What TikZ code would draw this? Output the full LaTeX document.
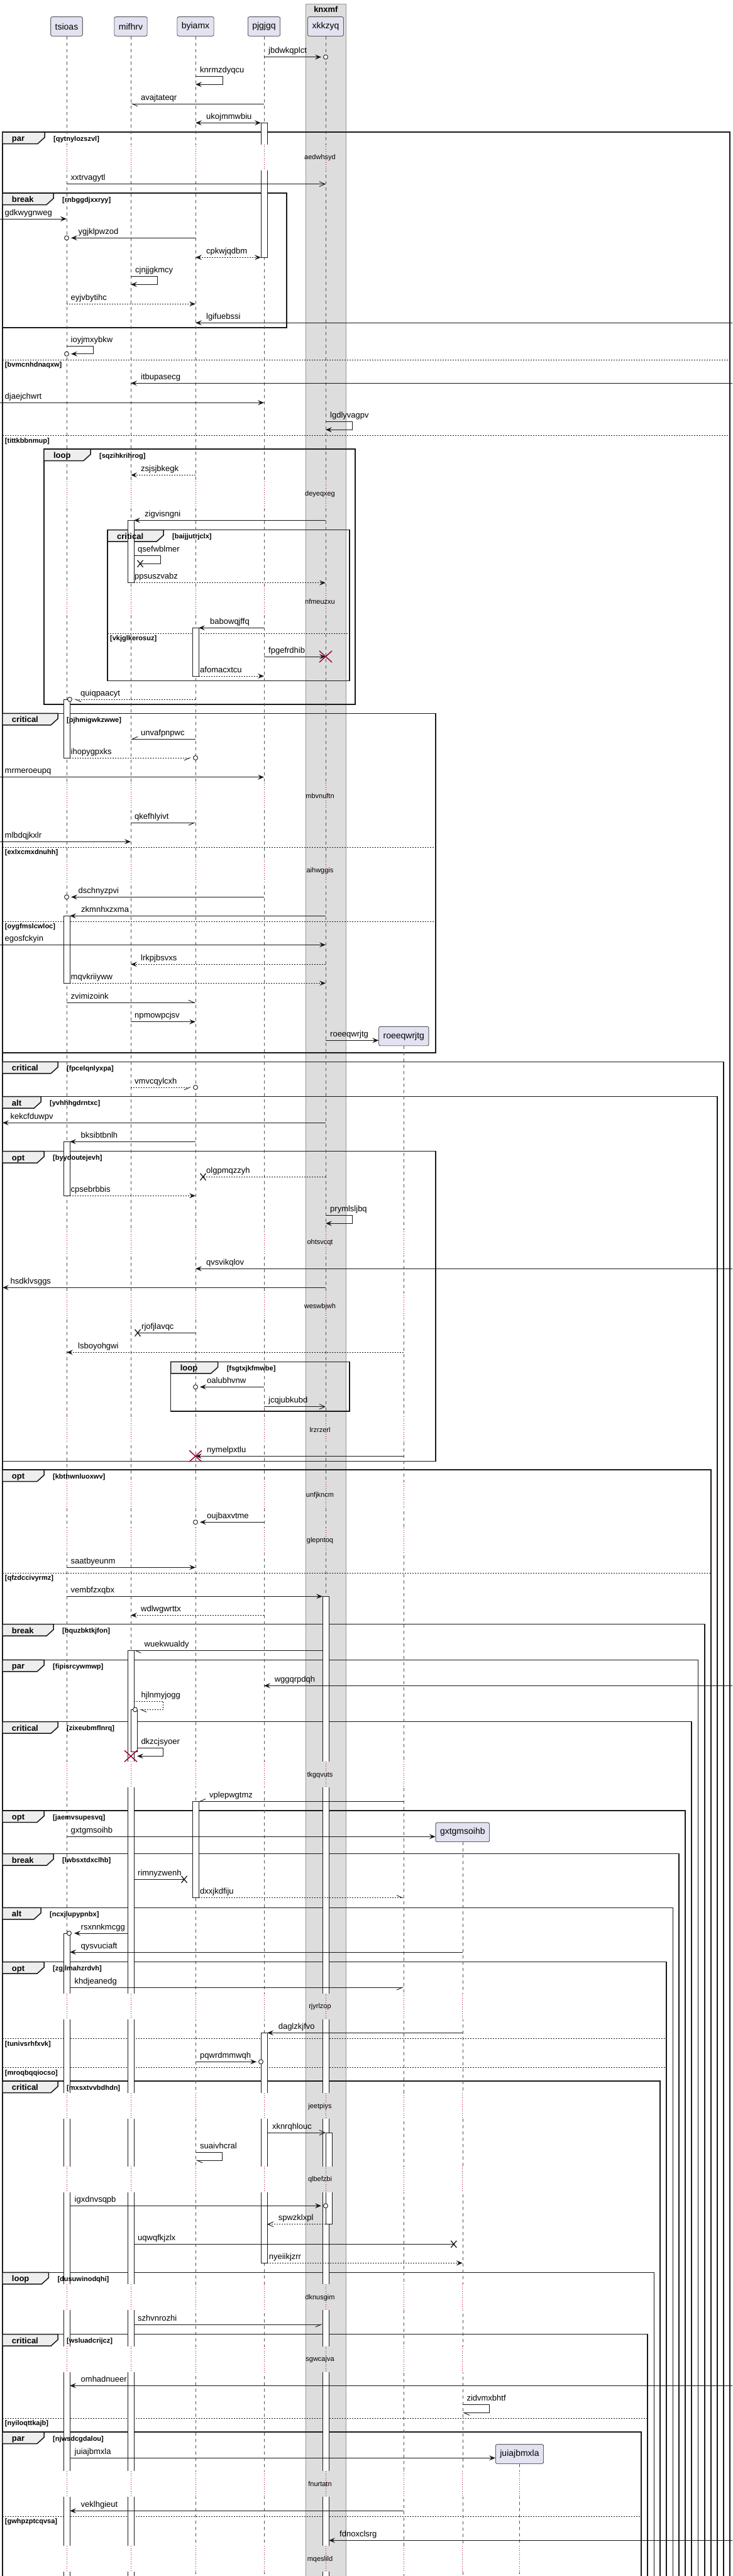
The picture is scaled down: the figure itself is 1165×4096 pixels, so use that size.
\documentclass[tikz,border=0pt]{standalone}
\usepackage{fontspec}
\setmainfont{Liberation Sans}
\usetikzlibrary{arrows.meta}

\definecolor{ink}{HTML}{181818}
\definecolor{partfill}{HTML}{E2E2F0}
\definecolor{boxfill}{HTML}{DDDDDD}
\definecolor{tabfill}{HTML}{EEEEEE}
\definecolor{crim}{HTML}{A80036}

\pgfdeclarelayer{fronttext}
\pgfsetlayers{main,fronttext}

% frame: keyword, guard, left, top, right, bottom, tab right
\newcommand{\grpframe}[7]{%
  \draw[grpline] (#3,#4) rectangle (#5,#6);
  \draw[grpline,fill=tabfill] (#3,#4) -- (#7,#4) -- (#7,#4+8.5) -- (#7-11,#4+18.5) -- (#3,#4+18.5) -- cycle;
  \begin{pgfonlayer}{fronttext}
  \node[grpkey] (k-#2) at (#3+15,#4+14.5) {#1};
  \node[grpguard] (g-#2) at (#7+14,#4+14) {[#2]};
  \end{pgfonlayer}}
% else line: guard, left, right, y
\newcommand{\grpelse}[4]{%
  \draw[elseline] (#2,#4) -- (#3,#4);
  \begin{pgfonlayer}{fronttext}
  \node[grpguard] (g-#1) at (#2+4,#4+11.5) {[#1]};
  \end{pgfonlayer}}
% activation: [shift] lifeline, from, to
\newcommand{\actbar}[4][0]{%
  \draw[actline] ([xshift=#1pt-5pt]#2 |- 0,#3) rectangle ([xshift=#1pt+5pt]#2 |- 0,#4);}
% delay: label, centre, lifelines on white
\newcommand{\delaygap}[3]{%
  \foreach \who in {#3}{%
    \fill[white] ([xshift=-11pt]\who |- 0,#2-21) rectangle ([xshift=11pt]\who |- 0,#2+20);
    \draw[delayline] (\who |- 0,#2-21) -- (\who |- 0,#2+20);}
  \fill[boxfill] ([xshift=-11pt]xkkzyq |- 0,#2-21) rectangle ([xshift=11pt]xkkzyq |- 0,#2+20);
  \draw[delayline] (xkkzyq |- 0,#2-21) -- (xkkzyq |- 0,#2+20);
  \node[delaytext] (d-#1) at (509,#2) {#1};}
\newcommand{\lostmark}[1]{\draw[lostline] #1 ++(-4.5,-5.5) -- ++(9,11) ++(0,-11) -- ++(-9,11);}
\newcommand{\killmark}[1]{\draw[killline] #1 ++(-10,-9) -- ++(20,18) ++(0,-18) -- ++(-20,18);}

\begin{document}
\begin{tikzpicture}[x=1pt,y=-1pt,
    part/.style={draw=ink, fill=partfill, rounded corners=2.5pt, line width=0.6pt,
      minimum height=30.6pt, inner xsep=7pt, inner ysep=0pt, font=\fontsize{14}{16}\selectfont},
    lifeline/.style={draw=ink!75, line width=0.6pt, dash pattern=on 5pt off 5pt},
    delayline/.style={draw=crim, line width=0.7pt, dash pattern=on 1pt off 2.5pt},
    delaytext/.style={inner sep=0pt, font=\fontsize{11}{13}\selectfont},
    grpline/.style={draw=ink, line width=1.5pt},
    elseline/.style={draw=ink, line width=0.8pt, dash pattern=on 2pt off 2pt},
    grpkey/.style={anchor=base west, inner sep=0pt, font=\bfseries\fontsize{13}{15}\selectfont},
    grpguard/.style={anchor=base west, inner sep=0pt, font=\bfseries\fontsize{11}{13}\selectfont},
    actline/.style={draw=ink, fill=white, line width=0.8pt},
    msgs/.style={draw=ink, line width=0.9pt},
    dmsg/.style={msgs, dash pattern=on 2pt off 2pt},
    hf/.style={-{Stealth[length=10pt,width=8pt,inset=4pt]}},
    hb/.style={{Stealth[length=10pt,width=8pt,inset=4pt]}-{Stealth[length=10pt,width=8pt,inset=4pt]}},
    ho/.style={-{Straight Barb[length=9pt,width=8pt]}},
    hl/.style={-{Straight Barb[left,length=9pt,width=8pt]}},
    hr/.style={-{Straight Barb[right,length=9pt,width=8pt]}},
    endring/.style={draw=ink, fill=white, line width=0.9pt},
    lostline/.style={draw=ink, line width=1.3pt},
    killline/.style={draw=crim, line width=1.5pt},
    mlabel/.style={anchor=base west, inner sep=0pt, font=\fontsize{13}{15}\selectfont}]

\useasboundingbox (0,0) rectangle (1165,4096);
\clip (0,0) rectangle (1165,4096);
\fill[white] (0,0) rectangle (1165,4096);

% box round xkkzyq
\draw[draw=ink!45, fill=boxfill, line width=0.6pt] (486.5,6.3) rectangle (550.3,4110);
\node[font=\bfseries\fontsize{13}{15}\selectfont] (knxmf) at (518.4,14.5) {knxmf};

% participants
\node[part] (tsioas) at (106,42) {tsioas};
\node[part] (mifhrv) at (208,42) {mifhrv};
\node[part] (byiamx) at (311,42) {byiamx};
\node[part] (pjgjgq) at (420,42) {pjgjgq};
\node[part] (xkkzyq) at (518,42) {xkkzyq};
\node[part] (roeeqwrjtg) at (642.3,1647.5) {roeeqwrjtg};
\node[part] (gxtgmsoihb) at (735.8,2913.3) {gxtgmsoihb};
\node[part] (juiajbmxla) at (826.5,3902) {juiajbmxla};
\coordinate (leftedge) at (0,0);
\coordinate (leftwall) at (4,0);
\coordinate (rightedge) at (1170,0);

% groups
\grpframe{par}{qytnylozszvl}{3.75}{210}{1161}{4110}{71}
\grpframe{break}{rnbggdjxxryy}{3.75}{307}{456}{521}{85}
\grpelse{bvmcnhdnaqxw}{3.75}{1161}{572.3}
\grpelse{tittkbbnmup}{3.75}{1161}{692.7}
\grpframe{loop}{sqzihkrihrog}{69.8}{714}{565}{1120}{144}
\grpframe{critical}{baijjutrjclx}{171}{842.7}{556}{1082.7}{260}
\grpelse{vkjglkerosuz}{171}{556}{1007.3}
\grpframe{critical}{pjhmigwkzwwe}{3.75}{1134.3}{693}{1674}{92}
\grpelse{exlxcmxdnuhh}{3.75}{693}{1347.3}
\grpelse{oygfmslcwloc}{3.75}{693}{1465.3}
\grpframe{critical}{fpcelqnlyxpa}{3.75}{1688.3}{1151}{4110}{92}
\grpframe{alt}{yvhhhgdrntxc}{3.75}{1743.7}{1141}{4110}{65}
\grpframe{opt}{byydoutejevh}{3.75}{1830.7}{693}{2323.3}{70}
\grpframe{loop}{fsgtxjkfmwbe}{271.6}{2165.3}{556}{2244}{346.6}
\grpframe{opt}{kbthwnluoxwv}{3.75}{2337}{1131}{4110}{70}
\grpelse{qfzdccivyrmz}{3.75}{1131}{2501.3}
\grpframe{break}{bquzbktkjfon}{3.75}{2582.7}{1121}{4110}{85}
\grpframe{par}{fipisrcywmwp}{3.75}{2639.3}{1110.5}{4110}{70}
\grpframe{critical}{zixeubmflnrq}{3.75}{2737.7}{1100}{4110}{92}
\grpframe{opt}{jaemvsupesvq}{3.75}{2879}{1090}{4110}{70}
\grpframe{break}{lwbsxtdxclhb}{3.75}{2947.7}{1080}{4110}{85}
\grpframe{alt}{ncxjlupypnbx}{3.75}{3033.3}{1070.5}{4110}{65}
\grpframe{opt}{zgjlmahzrdvh}{3.75}{3119.7}{1060}{4110}{70}
\grpelse{tunivsrhfxvk}{3.75}{1060}{3241.7}
\grpelse{mroqbqqiocso}{3.75}{1060}{3287.7}
\grpframe{critical}{mxsxtvvbdhdn}{3.75}{3309}{1050}{4110}{92}
\grpframe{loop}{dusuwinodqhi}{3.75}{3613.3}{1040.5}{4110}{77.3}
\grpframe{critical}{wsluadcrijcz}{3.75}{3711.7}{1030}{4110}{92}
\grpelse{nyiloqttkajb}{3.75}{1030}{3845.3}
\grpframe{par}{njwsdcgdalou}{3.75}{3867}{1020}{4110}{70}
\grpelse{gwhpzptcqvsa}{3.75}{1020}{4001.3}

% lifelines
\foreach \who in {tsioas,mifhrv,byiamx,pjgjgq,xkkzyq,roeeqwrjtg,gxtgmsoihb,juiajbmxla}
  \draw[lifeline] (\who.south) -- (\who.south |- 0,4110);

% activations
\actbar{pjgjgq}{195.3}{409.3}
\actbar{mifhrv}{827.3}{926.7}
\actbar{byiamx}{998.3}{1075}
\actbar{tsioas}{1112}{1205}
\actbar{tsioas}{1456.3}{1563.3}
\actbar{tsioas}{1815.3}{1901.3}
\actbar{xkkzyq}{2538.3}{4110}
\actbar{mifhrv}{2624.3}{4110}
\actbar[5]{mifhrv}{2718.3}{2785}
\actbar{byiamx}{2864.3}{3017.7}
\actbar{tsioas}{3074}{4110}
\actbar{pjgjgq}{3232.3}{3598.3}
\actbar[5]{xkkzyq}{3391}{3536.7}

% delays
\delaygap{aedwhsyd}{250.7}{tsioas,mifhrv,byiamx,pjgjgq}
\delaygap{deyeqxeg}{786}{tsioas,mifhrv,byiamx,pjgjgq}
\delaygap{nfmeuzxu}{956.7}{tsioas,mifhrv,byiamx,pjgjgq}
\delaygap{mbvnuftn}{1265.7}{tsioas,mifhrv,byiamx,pjgjgq}
\delaygap{aihwggis}{1384.3}{tsioas,mifhrv,byiamx,pjgjgq}
\delaygap{ohtsvcqt}{1975.7}{tsioas,mifhrv,byiamx,pjgjgq,roeeqwrjtg}
\delaygap{weswbjwh}{2077.3}{tsioas,mifhrv,byiamx,pjgjgq,roeeqwrjtg}
\delaygap{lrzrzerl}{2273.3}{tsioas,mifhrv,byiamx,pjgjgq,roeeqwrjtg}
\delaygap{unfjkncm}{2377.3}{tsioas,mifhrv,byiamx,pjgjgq,roeeqwrjtg}
\delaygap{glepntoq}{2450}{tsioas,mifhrv,byiamx,pjgjgq,roeeqwrjtg}
\delaygap{tkgqvuts}{2822.3}{tsioas,mifhrv,byiamx,pjgjgq,roeeqwrjtg}
\delaygap{rjyrlzop}{3190.7}{tsioas,mifhrv,byiamx,pjgjgq,roeeqwrjtg,gxtgmsoihb}
\delaygap{jeetpiys}{3349.3}{tsioas,mifhrv,byiamx,pjgjgq,roeeqwrjtg,gxtgmsoihb}
\delaygap{qlbefzbi}{3465.7}{tsioas,mifhrv,byiamx,pjgjgq,roeeqwrjtg,gxtgmsoihb}
\delaygap{dknusgim}{3653.3}{tsioas,mifhrv,byiamx,pjgjgq,roeeqwrjtg,gxtgmsoihb}
\delaygap{sgwcajva}{3751.7}{tsioas,mifhrv,byiamx,pjgjgq,roeeqwrjtg,gxtgmsoihb}
\delaygap{fnurtatn}{3950}{tsioas,mifhrv,byiamx,pjgjgq,roeeqwrjtg,gxtgmsoihb,juiajbmxla}
\delaygap{mqeslild}{4069.3}{tsioas,mifhrv,byiamx,pjgjgq,roeeqwrjtg,gxtgmsoihb,juiajbmxla}

% messages
\draw[msgs,hf] (pjgjgq |- 0,90.7) -- ([xshift=-7pt]xkkzyq |- 0,90.7);
\draw[endring] (xkkzyq |- 0,90.7) circle[radius=3.5pt];
\node[mlabel] (m-jbdwkqplct) at ([xshift=7pt]pjgjgq |- 0,84.7) {jbdwkqplct};

\draw[msgs,hf] (byiamx |- 0,121.3) -- ([xshift=43pt]byiamx |- 0,121.3) -- ([xshift=43pt]byiamx |- 0,134.3) -- (byiamx |- 0,134.3);
\node[mlabel] (m-knrmzdyqcu) at ([xshift=7pt]byiamx |- 0,115.3) {knrmzdyqcu};

\draw[msgs,hl] (pjgjgq |- 0,165) -- (mifhrv |- 0,165);
\node[mlabel] (m-avajtateqr) at ([xshift=16pt]mifhrv |- 0,159) {avajtateqr};

\draw[msgs,hb] (byiamx |- 0,195.3) -- ([xshift=-5pt]pjgjgq |- 0,195.3);
\node[mlabel] (m-ukojmmwbiu) at ([xshift=17pt]byiamx |- 0,189.3) {ukojmmwbiu};

\draw[msgs,ho] (tsioas |- 0,292.7) -- (xkkzyq |- 0,292.7);
\node[mlabel] (m-xxtrvagytl) at ([xshift=6.5pt]tsioas |- 0,286.7) {xxtrvagytl};

\draw[msgs,hf] (leftedge |- 0,348) -- (tsioas |- 0,348);
\node[mlabel] (m-gdkwygnweg) at ([xshift=7.5pt]leftedge |- 0,342) {gdkwygnweg};

\draw[msgs,hf] (byiamx |- 0,378.3) -- ([xshift=7pt]tsioas |- 0,378.3);
\draw[endring] (tsioas |- 0,378.3) circle[radius=3.5pt];
\node[mlabel] (m-ygjklpwzod) at ([xshift=18.5pt]tsioas |- 0,372.3) {ygjklpwzod};

\draw[dmsg,hb] (byiamx |- 0,409.3) -- ([xshift=-5pt]pjgjgq |- 0,409.3);
\node[mlabel] (m-cpkwjqdbm) at ([xshift=17pt]byiamx |- 0,403.3) {cpkwjqdbm};

\draw[msgs,hf] (mifhrv |- 0,439.3) -- ([xshift=42pt]mifhrv |- 0,439.3) -- ([xshift=42pt]mifhrv |- 0,452.3) -- (mifhrv |- 0,452.3);
\node[mlabel] (m-cjnjjgkmcy) at ([xshift=7pt]mifhrv |- 0,433.3) {cjnjjgkmcy};

\draw[dmsg,hf] (tsioas |- 0,483.3) -- (byiamx |- 0,483.3);
\node[mlabel] (m-eyjvbytihc) at ([xshift=6.5pt]tsioas |- 0,477.3) {eyjvbytihc};

\draw[msgs,hf] (rightedge |- 0,513.3) -- (byiamx |- 0,513.3);
\node[mlabel] (m-lgifuebssi) at ([xshift=17pt]byiamx |- 0,507.3) {lgifuebssi};

\draw[msgs,hf] (tsioas |- 0,550.3) -- ([xshift=42.5pt]tsioas |- 0,550.3) -- ([xshift=42.5pt]tsioas |- 0,562.7) -- ([xshift=7pt]tsioas |- 0,562.7);
\draw[endring] (tsioas |- 0,562.7) circle[radius=3.5pt];
\node[mlabel] (m-ioyjmxybkw) at ([xshift=6.5pt]tsioas |- 0,544.3) {ioyjmxybkw};

\draw[msgs,hf] (rightedge |- 0,609.3) -- (mifhrv |- 0,609.3);
\node[mlabel] (m-itbupasecg) at ([xshift=16pt]mifhrv |- 0,603.3) {itbupasecg};

\draw[msgs,hf] (leftedge |- 0,640.3) -- (pjgjgq |- 0,640.3);
\node[mlabel] (m-djaejchwrt) at ([xshift=7.5pt]leftedge |- 0,634.3) {djaejchwrt};

\draw[msgs,hf] (xkkzyq |- 0,670.7) -- ([xshift=42pt]xkkzyq |- 0,670.7) -- ([xshift=42pt]xkkzyq |- 0,683.3) -- (xkkzyq |- 0,683.3);
\node[mlabel] (m-lgdlyvagpv) at ([xshift=7pt]xkkzyq |- 0,664.7) {lgdlyvagpv};

\draw[dmsg,hf] (byiamx |- 0,755.3) -- (mifhrv |- 0,755.3);
\node[mlabel] (m-zsjsjbkegk) at ([xshift=16pt]mifhrv |- 0,749.3) {zsjsjbkegk};

\draw[msgs,hf] (xkkzyq |- 0,827.3) -- ([xshift=5pt]mifhrv |- 0,827.3);
\node[mlabel] (m-zigvisngni) at ([xshift=22pt]mifhrv |- 0,821.3) {zigvisngni};

\draw[msgs] ([xshift=5pt]mifhrv |- 0,883.3) -- ([xshift=47pt]mifhrv |- 0,883.3) -- ([xshift=47pt]mifhrv |- 0,896.3) -- ([xshift=15pt]mifhrv |- 0,896.3);
\lostmark{([xshift=15pt]mifhrv |- 0,896.3)}
\node[mlabel] (m-qsefwblmer) at ([xshift=11pt]mifhrv |- 0,877.3) {qsefwblmer};

\draw[dmsg,hf] ([xshift=5pt]mifhrv |- 0,926.7) -- (xkkzyq |- 0,926.7);
\node[mlabel] (m-ppsuszvabz) at ([xshift=6pt]mifhrv |- 0,920.7) {ppsuszvabz};

\draw[msgs,hf] (pjgjgq |- 0,998.3) -- ([xshift=5pt]byiamx |- 0,998.3);
\node[mlabel] (m-babowqjffq) at ([xshift=23pt]byiamx |- 0,992.3) {babowqjffq};

\draw[msgs,hf] (pjgjgq |- 0,1044) -- (xkkzyq |- 0,1044);
\killmark{(xkkzyq |- 0,1044)}
\node[mlabel] (m-fpgefrdhib) at ([xshift=7pt]pjgjgq |- 0,1038) {fpgefrdhib};

\draw[dmsg,hf] ([xshift=5pt]byiamx |- 0,1075) -- (pjgjgq |- 0,1075);
\node[mlabel] (m-afomacxtcu) at ([xshift=7pt]byiamx |- 0,1069) {afomacxtcu};

\draw[dmsg,hl] (byiamx |- 0,1112) -- ([xshift=12pt]tsioas |- 0,1112);
\draw[endring] ([xshift=5pt]tsioas |- 0,1112) circle[radius=3.5pt];
\node[mlabel] (m-quiqpaacyt) at ([xshift=22pt]tsioas |- 0,1106) {quiqpaacyt};

\draw[msgs,hr] (byiamx |- 0,1175.3) -- (mifhrv |- 0,1175.3);
\node[mlabel] (m-unvafpnpwc) at ([xshift=16pt]mifhrv |- 0,1169.3) {unvafpnpwc};

\draw[dmsg,hr] ([xshift=5pt]tsioas |- 0,1205) -- ([xshift=-7pt]byiamx |- 0,1205);
\draw[endring] (byiamx |- 0,1205) circle[radius=3.5pt];
\node[mlabel] (m-ihopygpxks) at ([xshift=6.5pt]tsioas |- 0,1199) {ihopygpxks};

\draw[msgs,hf] (leftedge |- 0,1235.7) -- (pjgjgq |- 0,1235.7);
\node[mlabel] (m-mrmeroeupq) at ([xshift=7.5pt]leftedge |- 0,1229.7) {mrmeroeupq};

\draw[msgs,hr] (mifhrv |- 0,1308.3) -- (byiamx |- 0,1308.3);
\node[mlabel] (m-qkefhlyivt) at ([xshift=6pt]mifhrv |- 0,1302.3) {qkefhlyivt};

\draw[msgs,hf] (leftedge |- 0,1338.3) -- (mifhrv |- 0,1338.3);
\node[mlabel] (m-mlbdqjkxlr) at ([xshift=7.5pt]leftedge |- 0,1332.3) {mlbdqjkxlr};

\draw[msgs,hf] (pjgjgq |- 0,1426.3) -- ([xshift=7pt]tsioas |- 0,1426.3);
\draw[endring] (tsioas |- 0,1426.3) circle[radius=3.5pt];
\node[mlabel] (m-dschnyzpvi) at ([xshift=18.5pt]tsioas |- 0,1420.3) {dschnyzpvi};

\draw[msgs,hf] (xkkzyq |- 0,1456.3) -- ([xshift=5pt]tsioas |- 0,1456.3);
\node[mlabel] (m-zkmnhxzxma) at ([xshift=23pt]tsioas |- 0,1450.3) {zkmnhxzxma};

\draw[msgs,hf] (leftedge |- 0,1502.3) -- (xkkzyq |- 0,1502.3);
\node[mlabel] (m-egosfckyin) at ([xshift=7.5pt]leftedge |- 0,1496.3) {egosfckyin};

\draw[dmsg,hf] (xkkzyq |- 0,1533.3) -- (mifhrv |- 0,1533.3);
\node[mlabel] (m-lrkpjbsvxs) at ([xshift=16pt]mifhrv |- 0,1527.3) {lrkpjbsvxs};

\draw[dmsg,hf] ([xshift=5pt]tsioas |- 0,1563.3) -- (xkkzyq |- 0,1563.3);
\node[mlabel] (m-mqvkriiyww) at ([xshift=6.5pt]tsioas |- 0,1557.3) {mqvkriiyww};

\draw[msgs,hl] (tsioas |- 0,1594.3) -- (byiamx |- 0,1594.3);
\node[mlabel] (m-zvimizoink) at ([xshift=6.5pt]tsioas |- 0,1588.3) {zvimizoink};

\draw[msgs,hf] (mifhrv |- 0,1624.7) -- (byiamx |- 0,1624.7);
\node[mlabel] (m-npmowpcjsv) at ([xshift=6pt]mifhrv |- 0,1618.7) {npmowpcjsv};

\draw[msgs,hf] (xkkzyq |- 0,1654.3) -- (roeeqwrjtg.west |- 0,1654.3);
\node[mlabel] (m-roeeqwrjtg) at ([xshift=7pt]xkkzyq |- 0,1648.3) {roeeqwrjtg};

\draw[dmsg,hr] (mifhrv |- 0,1729) -- ([xshift=-7pt]byiamx |- 0,1729);
\draw[endring] (byiamx |- 0,1729) circle[radius=3.5pt];
\node[mlabel] (m-vmvcqylcxh) at ([xshift=6pt]mifhrv |- 0,1723) {vmvcqylcxh};

\draw[msgs,hf] (xkkzyq |- 0,1785.3) -- (leftwall |- 0,1785.3);
\node[mlabel] (m-kekcfduwpv) at ([xshift=12.5pt]leftwall |- 0,1779.3) {kekcfduwpv};

\draw[msgs,hf] (byiamx |- 0,1815.3) -- ([xshift=5pt]tsioas |- 0,1815.3);
\node[mlabel] (m-bksibtbnlh) at ([xshift=22.5pt]tsioas |- 0,1809.3) {bksibtbnlh};

\draw[dmsg] (xkkzyq |- 0,1871.3) -- ([xshift=12pt]byiamx |- 0,1871.3);
\lostmark{([xshift=12pt]byiamx |- 0,1871.3)}
\node[mlabel] (m-olgpmqzzyh) at ([xshift=17pt]byiamx |- 0,1865.3) {olgpmqzzyh};

\draw[dmsg,hf] ([xshift=5pt]tsioas |- 0,1901.3) -- (byiamx |- 0,1901.3);
\node[mlabel] (m-cpsebrbbis) at ([xshift=6.5pt]tsioas |- 0,1895.3) {cpsebrbbis};

\draw[msgs,hf] (xkkzyq |- 0,1932.3) -- ([xshift=42pt]xkkzyq |- 0,1932.3) -- ([xshift=42pt]xkkzyq |- 0,1945.3) -- (xkkzyq |- 0,1945.3);
\node[mlabel] (m-prymlsljbq) at ([xshift=7pt]xkkzyq |- 0,1926.3) {prymlsljbq};

\draw[msgs,hf] (rightedge |- 0,2017.3) -- (byiamx |- 0,2017.3);
\node[mlabel] (m-qvsvikqlov) at ([xshift=17pt]byiamx |- 0,2011.3) {qvsvikqlov};

\draw[msgs,hf] (xkkzyq |- 0,2047.3) -- (leftwall |- 0,2047.3);
\node[mlabel] (m-hsdklvsggs) at ([xshift=12.5pt]leftwall |- 0,2041.3) {hsdklvsggs};

\draw[msgs] (byiamx |- 0,2119.3) -- ([xshift=11pt]mifhrv |- 0,2119.3);
\lostmark{([xshift=11pt]mifhrv |- 0,2119.3)}
\node[mlabel] (m-rjofjlavqc) at ([xshift=17pt]mifhrv |- 0,2113.3) {rjofjlavqc};

\draw[dmsg,hf] (roeeqwrjtg |- 0,2150.3) -- (tsioas |- 0,2150.3);
\node[mlabel] (m-lsboyohgwi) at ([xshift=18pt]tsioas |- 0,2144.3) {lsboyohgwi};

\draw[msgs,hf] (pjgjgq |- 0,2205.3) -- ([xshift=7pt]byiamx |- 0,2205.3);
\draw[endring] (byiamx |- 0,2205.3) circle[radius=3.5pt];
\node[mlabel] (m-oalubhvnw) at ([xshift=18pt]byiamx |- 0,2199.3) {oalubhvnw};

\draw[msgs,ho] (pjgjgq |- 0,2236.7) -- (xkkzyq |- 0,2236.7);
\node[mlabel] (m-jcqjubkubd) at ([xshift=7pt]pjgjgq |- 0,2230.7) {jcqjubkubd};

\draw[msgs,hf] (roeeqwrjtg |- 0,2315.3) -- (byiamx |- 0,2315.3);
\killmark{(byiamx |- 0,2315.3)}
\node[mlabel] (m-nymelpxtlu) at ([xshift=18pt]byiamx |- 0,2309.3) {nymelpxtlu};

\draw[msgs,hf] (pjgjgq |- 0,2420.3) -- ([xshift=7pt]byiamx |- 0,2420.3);
\draw[endring] (byiamx |- 0,2420.3) circle[radius=3.5pt];
\node[mlabel] (m-oujbaxvtme) at ([xshift=18pt]byiamx |- 0,2414.3) {oujbaxvtme};

\draw[msgs,hf] (tsioas |- 0,2492.3) -- (byiamx |- 0,2492.3);
\node[mlabel] (m-saatbyeunm) at ([xshift=6.5pt]tsioas |- 0,2486.3) {saatbyeunm};

\draw[msgs,hf] (tsioas |- 0,2538.3) -- ([xshift=-5pt]xkkzyq |- 0,2538.3);
\node[mlabel] (m-vembfzxqbx) at ([xshift=6.5pt]tsioas |- 0,2532.3) {vembfzxqbx};

\draw[dmsg,hf] (pjgjgq |- 0,2568.3) -- (mifhrv |- 0,2568.3);
\node[mlabel] (m-wdlwgwrttx) at ([xshift=16pt]mifhrv |- 0,2562.3) {wdlwgwrttx};

\draw[msgs,hl] ([xshift=-5pt]xkkzyq |- 0,2624.3) -- ([xshift=5pt]mifhrv |- 0,2624.3);
\node[mlabel] (m-wuekwualdy) at ([xshift=21.5pt]mifhrv |- 0,2618.3) {wuekwualdy};

\draw[msgs,hf] (rightedge |- 0,2680.3) -- (pjgjgq |- 0,2680.3);
\node[mlabel] (m-wggqrpdqh) at ([xshift=16.6pt]pjgjgq |- 0,2674.3) {wggqrpdqh};

\draw[dmsg,hl] ([xshift=5pt]mifhrv |- 0,2705) -- ([xshift=51.6pt]mifhrv |- 0,2705) -- ([xshift=51.6pt]mifhrv |- 0,2718.3) -- ([xshift=14pt]mifhrv |- 0,2718.3);
\draw[endring] ([xshift=7pt]mifhrv |- 0,2718.3) circle[radius=3.5pt];
\node[mlabel] (m-hjlnmyjogg) at ([xshift=16.5pt]mifhrv |- 0,2699) {hjlnmyjogg};

\draw[msgs,hf] ([xshift=10pt]mifhrv |- 0,2779.3) -- ([xshift=51.6pt]mifhrv |- 0,2779.3) -- ([xshift=51.6pt]mifhrv |- 0,2792.3) -- ([xshift=10pt]mifhrv |- 0,2792.3);
\killmark{(mifhrv |- 0,2792.3)}
\node[mlabel] (m-dkzcjsyoer) at ([xshift=16.3pt]mifhrv |- 0,2773.3) {dkzcjsyoer};

\draw[msgs,hr] (roeeqwrjtg |- 0,2864.3) -- ([xshift=5pt]byiamx |- 0,2864.3);
\node[mlabel] (m-vplepwgtmz) at ([xshift=22pt]byiamx |- 0,2858.3) {vplepwgtmz};

\draw[msgs,hf] (tsioas |- 0,2920.3) -- (gxtgmsoihb.west |- 0,2920.3);
\node[mlabel] (m-gxtgmsoihb) at ([xshift=6.5pt]tsioas |- 0,2914.3) {gxtgmsoihb};

\draw[msgs] ([xshift=5pt]mifhrv |- 0,2988.3) -- ([xshift=-18pt]byiamx |- 0,2988.3);
\lostmark{([xshift=-18pt]byiamx |- 0,2988.3)}
\node[mlabel] (m-rimnyzwenh) at ([xshift=11pt]mifhrv |- 0,2982.3) {rimnyzwenh};

\draw[dmsg,hl] ([xshift=5pt]byiamx |- 0,3017.7) -- (roeeqwrjtg |- 0,3017.7);
\node[mlabel] (m-dxxjkdfiju) at ([xshift=7pt]byiamx |- 0,3011.7) {dxxjkdfiju};

\draw[msgs,hf] ([xshift=-5pt]mifhrv |- 0,3074) -- ([xshift=12pt]tsioas |- 0,3074);
\draw[endring] ([xshift=4pt]tsioas |- 0,3074) circle[radius=3.5pt];
\node[mlabel] (m-rsxnnkmcgg) at ([xshift=22.5pt]tsioas |- 0,3068) {rsxnnkmcgg};

\draw[msgs,hf] (gxtgmsoihb |- 0,3104) -- ([xshift=5pt]tsioas |- 0,3104);
\node[mlabel] (m-qysvuciaft) at ([xshift=22.5pt]tsioas |- 0,3098) {qysvuciaft};

\draw[msgs,hr] ([xshift=5pt]tsioas |- 0,3160) -- (roeeqwrjtg |- 0,3160);
\node[mlabel] (m-khdjeanedg) at ([xshift=12.5pt]tsioas |- 0,3154) {khdjeanedg};

\draw[msgs,hf] (gxtgmsoihb |- 0,3232.3) -- ([xshift=5pt]pjgjgq |- 0,3232.3);
\node[mlabel] (m-daglzkjfvo) at ([xshift=22.6pt]pjgjgq |- 0,3226.3) {daglzkjfvo};

\draw[msgs,hf] (byiamx |- 0,3278.3) -- ([xshift=-12pt]pjgjgq |- 0,3278.3);
\draw[endring] ([xshift=-5pt]pjgjgq |- 0,3278.3) circle[radius=3.5pt];
\node[mlabel] (m-pqwrdmmwqh) at ([xshift=7pt]byiamx |- 0,3272.3) {pqwrdmmwqh};

\draw[msgs,ho] ([xshift=5pt]pjgjgq |- 0,3391) -- (xkkzyq |- 0,3391);
\node[mlabel] (m-xknrqhlouc) at ([xshift=12.8pt]pjgjgq |- 0,3385) {xknrqhlouc};

\draw[msgs,hl] (byiamx |- 0,3422.3) -- ([xshift=42.7pt]byiamx |- 0,3422.3) -- ([xshift=42.7pt]byiamx |- 0,3435) -- (byiamx |- 0,3435);
\node[mlabel] (m-suaivhcral) at ([xshift=7pt]byiamx |- 0,3416.3) {suaivhcral};

\draw[msgs,hf] ([xshift=5pt]tsioas |- 0,3507.3) -- ([xshift=-7pt]xkkzyq |- 0,3507.3);
\draw[endring] (xkkzyq |- 0,3507.3) circle[radius=3.5pt];
\node[mlabel] (m-igxdnvsqpb) at ([xshift=12.5pt]tsioas |- 0,3501.3) {igxdnvsqpb};

\draw[dmsg,ho] (xkkzyq |- 0,3536.7) -- ([xshift=5pt]pjgjgq |- 0,3536.7);
\node[mlabel] (m-spwzklxpl) at ([xshift=22.6pt]pjgjgq |- 0,3530.7) {spwzklxpl};

\draw[msgs] ([xshift=5pt]mifhrv |- 0,3568.3) -- ([xshift=-14pt]gxtgmsoihb |- 0,3568.3);
\lostmark{([xshift=-14pt]gxtgmsoihb |- 0,3568.3)}
\node[mlabel] (m-uqwqfkjzlx) at ([xshift=11pt]mifhrv |- 0,3562.3) {uqwqfkjzlx};

\draw[dmsg,hf] ([xshift=5pt]pjgjgq |- 0,3598.3) -- (gxtgmsoihb |- 0,3598.3);
\node[mlabel] (m-nyeiikjzrr) at ([xshift=7.6pt]pjgjgq |- 0,3592.3) {nyeiikjzrr};

\draw[msgs,hr] ([xshift=5pt]mifhrv |- 0,3696) -- ([xshift=-5pt]xkkzyq |- 0,3696);
\node[mlabel] (m-szhvnrozhi) at ([xshift=11pt]mifhrv |- 0,3690) {szhvnrozhi};

\draw[msgs,hf] (rightedge |- 0,3793.3) -- ([xshift=5pt]tsioas |- 0,3793.3);
\node[mlabel] (m-omhadnueer) at ([xshift=22.5pt]tsioas |- 0,3787.3) {omhadnueer};

\draw[msgs,hl] (gxtgmsoihb |- 0,3823.3) -- ([xshift=42.5pt]gxtgmsoihb |- 0,3823.3) -- ([xshift=42.5pt]gxtgmsoihb |- 0,3836.3) -- (gxtgmsoihb |- 0,3836.3);
\node[mlabel] (m-zidvmxbhtf) at ([xshift=6.5pt]gxtgmsoihb |- 0,3817.3) {zidvmxbhtf};

\draw[msgs,hf] ([xshift=5pt]tsioas |- 0,3908.3) -- (juiajbmxla.west |- 0,3908.3);
\node[mlabel] (m-juiajbmxla) at ([xshift=12.5pt]tsioas |- 0,3902.3) {juiajbmxla};

\draw[msgs,hf] (roeeqwrjtg |- 0,3992.3) -- ([xshift=5pt]tsioas |- 0,3992.3);
\node[mlabel] (m-veklhgieut) at ([xshift=22.5pt]tsioas |- 0,3986.3) {veklhgieut};

\draw[msgs,hf] (rightedge |- 0,4039.3) -- ([xshift=5pt]xkkzyq |- 0,4039.3);
\node[mlabel] (m-fdnoxclsrg) at ([xshift=22pt]xkkzyq |- 0,4033.3) {fdnoxclsrg};

\end{tikzpicture}
\end{document}
